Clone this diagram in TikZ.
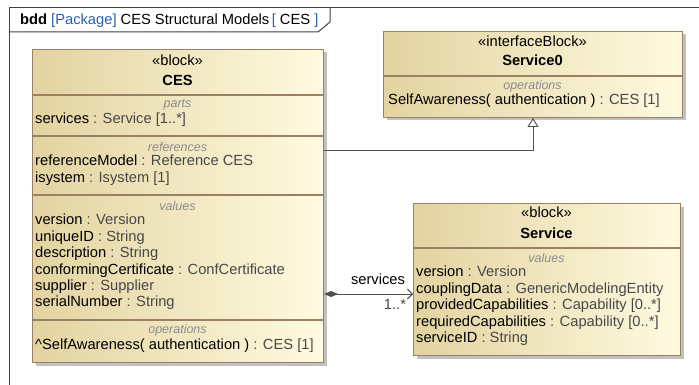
\documentclass[tikz,border=0pt]{standalone}
\usepackage{fontspec}
\setmainfont{Liberation Sans}
\usetikzlibrary{arrows.meta,shadows}
\definecolor{blockdark}{HTML}{E2D3A0}
\definecolor{blocklight}{HTML}{FFFAE0}
\definecolor{blockline}{HTML}{9C8064}
\definecolor{labelgray}{HTML}{8C8C8C}
\definecolor{typegray}{HTML}{484848}
\definecolor{pkgblue}{HTML}{2A5FB0}
\definecolor{linegray}{HTML}{505050}
\newcommand{\cesattr}[2]{#1 \textcolor{typegray}{: #2}}

\begin{document}
\begin{tikzpicture}[x=1pt,y=-1pt,
    block/.style={draw=blockline, line width=1pt, left color=blockdark, right color=blocklight,
      rectangle, anchor=north west, inner sep=0pt,
      drop shadow={shadow xshift=3pt, shadow yshift=-3pt, fill=black!35, opacity=0.7}},
    sep/.style={draw=blockline, line width=1.3pt},
    line/.style={anchor=west, inner sep=0pt, font=\fontsize{14.7}{16}\selectfont, text height=10.5pt, text depth=3pt},
    head/.style={inner sep=0pt, font=\fontsize{14.7}{16}\selectfont, text height=10.5pt, text depth=3pt},
    compart/.style={inner sep=0pt, font=\fontsize{12.5}{14}\selectfont\itshape, text=labelgray},
    conn/.style={draw=linegray, line width=0.9pt}]
    \useasboundingbox (0,0) rectangle (699,385);
    \draw [draw=black!75, line width=1pt] (9,385) -- (9,8) -- (699,8);
    \draw [draw=black!75, line width=1pt] (9,32) -- (318,32) -- (330,22) -- (330,8);
    \node [line] (frametitle) at (20,21) {\textbf{bdd} \textcolor{pkgblue}{[Package]} CES Structural Models\,\textcolor{pkgblue}{[} CES \textcolor{pkgblue}{]}};

    \node [block, minimum width=291pt, minimum height=313pt] (ces) at (32,49) {};
    \draw [sep] (ces.west |- 0,95) -- (ces.east |- 0,95);
    \draw [sep] (ces.west |- 0,136) -- (ces.east |- 0,136);
    \draw [sep] (ces.west |- 0,195) -- (ces.east |- 0,195);
    \draw [sep] (ces.west |- 0,320) -- (ces.east |- 0,320);
    \node [head] (cesstereo) at (177.5,62) {«block»};
    \node [head] (cesname) at (177.5,82) {\textbf{CES}};
    \node [compart] (cesparts) at (177.5,105) {parts};
    \node [line] (cesp1) at (35,120) {\cesattr{services}{Service [1..*]}};
    \node [compart] (cesrefs) at (177.5,147) {references};
    \node [line] (cesr1) at (35,162) {\cesattr{referenceModel}{Reference CES}};
    \node [line] (cesr2) at (35,179) {\cesattr{isystem}{Isystem [1]}};
    \node [compart] (cesvalues) at (177.5,206) {values};
    \node [line] (cesv1) at (35,221) {\cesattr{version}{Version}};
    \node [line] (cesv2) at (35,238) {\cesattr{uniqueID}{String}};
    \node [line] (cesv3) at (35,254) {\cesattr{description}{String}};
    \node [line] (cesv4) at (35,271) {\cesattr{conformingCertificate}{ConfCertificate}};
    \node [line] (cesv5) at (35,287) {\cesattr{supplier}{Supplier}};
    \node [line] (cesv6) at (35,303) {\cesattr{serialNumber}{String}};
    \node [compart] (cesops) at (177.5,330) {operations};
    \node [line] (ceso1) at (35,346) {\cesattr{\^{}SelfAwareness( authentication )}{CES [1]}};

    \node [block, minimum width=299pt, minimum height=86pt] (service0) at (383,31) {};
    \draw [sep] (service0.west |- 0,76) -- (service0.east |- 0,76);
    \node [head] (service0stereo) at (532.5,43) {«interfaceBlock»};
    \node [head] (service0name) at (532.5,62) {\textbf{Service0}};
    \node [compart] (service0ops) at (532.5,86) {operations};
    \node [line] (service0o1) at (388,101) {\cesattr{SelfAwareness( authentication )}{CES [1]}};

    \node [block, minimum width=267pt, minimum height=152pt] (service) at (413,203) {};
    \draw [sep] (service.west |- 0,248) -- (service.east |- 0,248);
    \node [head] (servicestereo) at (546.5,214) {«block»};
    \node [head] (servicename) at (546.5,235) {\textbf{Service}};
    \node [compart] (servicevalues) at (546.5,258) {values};
    \node [line] (servicev1) at (416,273) {\cesattr{version}{Version}};
    \node [line] (servicev2) at (416,290) {\cesattr{couplingData}{GenericModelingEntity}};
    \node [line] (servicev3) at (416,306) {\cesattr{providedCapabilities}{Capability [0..*]}};
    \node [line] (servicev4) at (416,323) {\cesattr{requiredCapabilities}{Capability [0..*]}};
    \node [line] (servicev5) at (416,339) {\cesattr{serviceID}{String}};

    \draw [conn, -{Triangle[open, length=9pt, width=11pt, fill=white]}] (ces.east |- 0,150) -| (service0.south);
    \draw [conn, {Diamond[length=14pt, width=6pt, fill=linegray]}-{Straight Barb[length=5pt, width=10pt]}] (ces.east |- 0,294) -- (service.west |- 0,294);
    \node [head] (rolename) at (378,281) {services};
    \node [head, text=typegray] (multiplicity) at (395,306) {1..*};
\end{tikzpicture}
\end{document}
